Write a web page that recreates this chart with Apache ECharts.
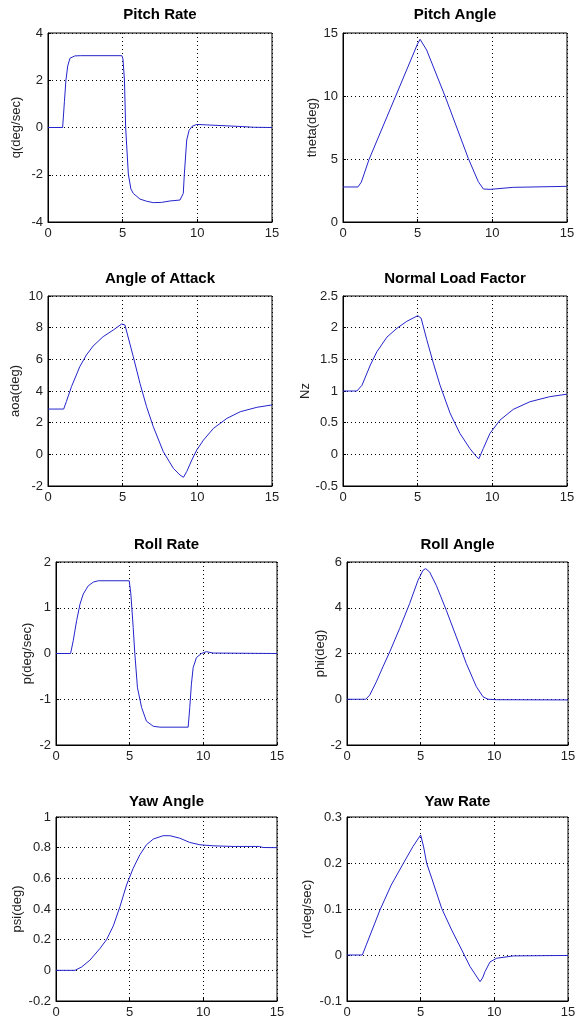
<!DOCTYPE html>
<html>
<head>
    <meta charset="utf-8" />
    <script src="https://cdn.jsdelivr.net/npm/echarts@6.0.0/dist/echarts.min.js"></script>
    <style>
        body {
            margin: 0px;
            background-color: #ffffff;
            overflow: hidden;
        }

        #main {
            width: 585px;
            height: 1019px;
        }
    </style>
</head>

<body>
    <div id="main"></div>

<script type="text/javascript">
    // time (sec) and value
    var pitchRateT = [0, 0.98, 1.1, 1.2, 1.32, 1.47, 1.8, 2.2, 4.95, 5.02, 5.12, 5.2, 5.38, 5.55, 5.71, 6.16, 6.6, 7.05, 7.6, 8.17, 8.84, 9.06, 9.13, 9.29, 9.45, 9.65, 9.96, 10.63, 11.98, 13.0, 13.77, 15];
    var pitchRateY = [0, 0, 1.1, 2.0, 2.6, 2.93, 3.03, 3.04, 3.04, 2.9, 2.0, 0, -1.97, -2.6, -2.79, -3.03, -3.12, -3.18, -3.17, -3.11, -3.07, -2.79, -1.97, -0.53, -0.12, 0.05, 0.13, 0.11, 0.07, 0.04, 0.01, 0];

    var pitchAngleT = [0, 1.0, 1.1, 1.23, 1.74, 3.53, 4.98, 5.16, 5.6, 6.83, 8.39, 9.06, 9.4, 9.85, 11.4, 15];
    var pitchAngleY = [2.78, 2.78, 2.85, 3.17, 4.95, 10, 14.1, 14.5, 13.65, 10, 5.05, 3.2, 2.62, 2.59, 2.75, 2.83];

    var aoaT = [0, 1.05, 1.23, 1.57, 2.13, 2.57, 3.02, 3.69, 4.37, 4.93, 5.04, 5.15, 5.71, 6.16, 6.6, 7.05, 7.72, 8.39, 8.84, 9.07, 9.29, 9.63, 9.96, 10.41, 11.08, 11.98, 12.87, 13.99, 15];
    var aoaY = [2.86, 2.86, 3.33, 4.27, 5.54, 6.27, 6.84, 7.43, 7.85, 8.23, 8.32, 8.17, 6.17, 4.48, 3.01, 1.75, 0.17, -0.88, -1.31, -1.45, -1.09, -0.36, 0.27, 0.9, 1.64, 2.27, 2.69, 2.97, 3.12];

    var nzT = [0, 0.93, 1.05, 1.27, 1.83, 2.27, 2.94, 3.61, 4.27, 5.01, 5.12, 5.23, 5.61, 6.05, 6.5, 7.17, 7.83, 8.5, 8.95, 9.1, 9.39, 9.84, 10.51, 11.4, 12.51, 13.84, 15];
    var nzY = [1.0, 1.0, 0.98, 1.09, 1.41, 1.62, 1.85, 1.99, 2.1, 2.19, 2.22, 2.15, 1.81, 1.44, 1.09, 0.65, 0.33, 0.09, -0.04, -0.07, 0.09, 0.33, 0.54, 0.71, 0.83, 0.91, 0.95];

    var rollRateT = [0, 0.99, 1.17, 1.4, 1.63, 1.85, 2.19, 2.53, 2.87, 4.97, 5.08, 5.24, 5.35, 5.53, 5.81, 6.14, 6.6, 7.05, 8.97, 9.08, 9.19, 9.31, 9.53, 9.87, 10.21, 10.66, 15];
    var rollRateY = [0, 0, 0.28, 0.72, 1.08, 1.3, 1.48, 1.56, 1.59, 1.59, 1.3, 0.57, 0, -0.75, -1.18, -1.48, -1.59, -1.61, -1.61, -1.18, -0.67, -0.31, -0.09, 0, 0.04, 0.01, 0];

    var rollAngleT = [0, 1.27, 1.54, 1.99, 2.44, 2.9, 3.57, 4.25, 4.82, 5.16, 5.34, 5.61, 6.06, 6.74, 7.42, 8.1, 8.78, 9.23, 9.57, 10.14, 15];
    var rollAngleY = [0, 0, 0.18, 0.76, 1.42, 2.07, 3.09, 4.18, 5.2, 5.64, 5.71, 5.56, 4.98, 3.89, 2.73, 1.56, 0.55, 0.11, 0, -0.02, -0.03];

    var yawAngleT = [0, 1.29, 1.74, 2.3, 2.98, 3.43, 3.89, 4.34, 4.79, 5.24, 5.69, 6.14, 6.6, 7.27, 7.73, 8.4, 9.08, 9.76, 10.66, 12.02, 13.82, 14.05, 15];
    var yawAngleY = [0, 0, 0.022, 0.066, 0.142, 0.2, 0.29, 0.415, 0.557, 0.666, 0.753, 0.819, 0.856, 0.878, 0.878, 0.862, 0.834, 0.819, 0.812, 0.808, 0.808, 0.801, 0.8];

    var yawRateT = [0, 1.04, 1.31, 2.24, 3.0, 3.82, 4.48, 5.0, 5.2, 5.41, 5.75, 6.43, 7.11, 7.79, 8.35, 9.03, 9.2, 9.37, 9.71, 10.16, 11.29, 15];
    var yawRateY = [0, 0, 0.022, 0.098, 0.152, 0.199, 0.236, 0.261, 0.235, 0.199, 0.167, 0.101, 0.054, 0.011, -0.025, -0.058, -0.05, -0.036, -0.015, -0.007, -0.002, -0.001];

    // titles, y labels, y axis ranges [min, max, interval]
    var titles = ['Pitch Rate', 'Pitch Angle', 'Angle of Attack', 'Normal Load Factor', 'Roll Rate', 'Roll Angle', 'Yaw Angle', 'Yaw Rate'];
    var yNames = ['q(deg/sec)', 'theta(deg)', 'aoa(deg)', 'Nz', 'p(deg/sec)', 'phi(deg)', 'psi(deg)', 'r(deg/sec)'];
    var yRanges = [[-4, 4, 2], [0, 15, 5], [-2, 10, 2], [-0.5, 2.5, 0.5], [-2, 2, 1], [-2, 6, 2], [-0.2, 1, 0.2], [-0.1, 0.3, 0.1]];
    var xTicks = [0, 15, 5];
    var curves = [
        [pitchRateT, pitchRateY], [pitchAngleT, pitchAngleY],
        [aoaT, aoaY], [nzT, nzY],
        [rollRateT, rollRateY], [rollAngleT, rollAngleY],
        [yawAngleT, yawAngleY], [yawRateT, yawRateY]
    ];

    // plot boxes in px: left, top, width, height
    var boxes = [
        [48, 33, 224, 189], [343, 33, 224, 189],
        [48, 296, 224, 190], [343, 296, 224, 190],
        [56, 562, 221, 183], [347, 562, 221, 183],
        [56, 817, 221, 184], [347, 817, 221, 184]
    ];
    var titleTops = [7, 271, 537, 794];
    var nameGaps = [25, 24, 26, 31, 22, 19, 32, 33];

    var font = "'Liberation Sans', Arial, sans-serif";
    var lineColor = '#2424cc';

    var chart = echarts.init(document.getElementById('main'));

    var grids = [], xAxes = [], yAxes = [], series = [], titleList = [];
    for (var i = 0; i < 8; i++) {
        var b = boxes[i];
        grids.push({
            left: b[0], top: b[1], width: b[2], height: b[3],
            show: true, borderColor: '#000', borderWidth: 1, backgroundColor: '#fff'
        });
        titleList.push({
            text: titles[i],
            left: b[0] + b[2] / 2,
            top: titleTops[Math.floor(i / 2)],
            textAlign: 'center',
            padding: 0,
            textStyle: { fontFamily: font, fontSize: 15, fontWeight: 'bold', color: '#000' }
        });
        xAxes.push({
            type: 'value', gridIndex: i,
            min: xTicks[0], max: xTicks[1], interval: xTicks[2],
            axisLine: { show: true, onZero: false, lineStyle: { color: '#000', width: 1 } },
            axisTick: { show: true, inside: true, length: 3, lineStyle: { color: '#000' } },
            axisLabel: { fontFamily: font, fontSize: 13, color: '#222', margin: 5 },
            splitLine: { show: true, lineStyle: { color: '#000', width: 1, type: [1, 3] } }
        });
        var r = yRanges[i];
        yAxes.push({
            type: 'value', gridIndex: i,
            min: r[0], max: r[1], interval: r[2],
            name: yNames[i], nameLocation: 'middle', nameGap: nameGaps[i],
            nameTextStyle: { fontFamily: font, fontSize: 13, color: '#222' },
            axisLine: { show: true, onZero: false, lineStyle: { color: '#000', width: 1 } },
            axisTick: { show: true, inside: true, length: 3, lineStyle: { color: '#000' } },
            axisLabel: { fontFamily: font, fontSize: 13, color: '#222', margin: 5 },
            splitLine: { show: true, lineStyle: { color: '#000', width: 1, type: [1, 3] } }
        });
        var t = curves[i][0], y = curves[i][1];
        series.push({
            type: 'line', xAxisIndex: i, yAxisIndex: i,
            data: t.map(function (v, k) { return [v, y[k]]; }),
            symbol: 'none', smooth: false,
            lineStyle: { color: lineColor, width: 1 },
            itemStyle: { color: lineColor }
        });
    }

    chart.setOption({
        backgroundColor: '#fff',
        animation: false,
        title: titleList,
        grid: grids,
        xAxis: xAxes,
        yAxis: yAxes,
        series: series
    });
</script>
</body>

</html>
